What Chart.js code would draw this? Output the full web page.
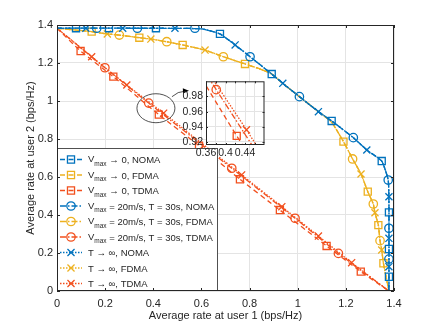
<!DOCTYPE html>
<html>
<head>
<meta charset="utf-8">
<script src="https://cdn.jsdelivr.net/npm/chart.js@4.4.1/dist/chart.umd.min.js"></script>
<style>
html, body { margin: 0; padding: 0; background: #fff; }
#wrap { position: relative; width: 436px; height: 327px; }
#main { position: absolute; left: 0; top: 0; }
#inset { position: absolute; left: 165px; top: 72px; }
</style>
</head>
<body>
<div id="wrap">
  <canvas id="main" width="436" height="327"></canvas>
  <canvas id="inset" width="110" height="90"></canvas>
</div>
<script>
// ---------- data ----------
var xTicks = [0, 0.2, 0.4, 0.6, 0.8, 1, 1.2, 1.4];
var yTicks = [0, 0.2, 0.4, 0.6, 0.8, 1, 1.2, 1.4];
var insetXGrid = [0.36, 0.38, 0.4, 0.42, 0.44, 0.46];
var insetXLabels = [0.36, 0.4, 0.44];
var insetYTicks = [0.92, 0.94, 0.96, 0.98];

// common end points of every curve
var startPt = [0, 1.383];
var endPt = [1.379, 0];

// NOMA curve (the three NOMA cases lie on top of each other)
var nomaX = [0, 0.3, 0.6, 0.677, 0.74, 0.802, 0.892, 0.938, 1.007, 1.086, 1.141, 1.231, 1.287, 1.349, 1.376, 1.379, 1.379];
var nomaY = [1.383, 1.383, 1.38, 1.353, 1.295, 1.233, 1.142, 1.093, 1.023, 0.944, 0.895, 0.807, 0.742, 0.684, 0.584, 0.45, 0];
// FDMA curve
var fdmaX = [0, 0.144, 0.209, 0.259, 0.342, 0.39, 0.456, 0.522, 0.615, 0.691, 0.781, 0.84, 0.892, 0.938, 1.007, 1.086, 1.141, 1.19, 1.228, 1.263, 1.291, 1.314, 1.321, 1.335, 1.342, 1.349, 1.356, 1.379];
var fdmaY = [1.383, 1.365, 1.353, 1.347, 1.333, 1.326, 1.312, 1.295, 1.268, 1.233, 1.195, 1.17, 1.142, 1.093, 1.023, 0.944, 0.888, 0.786, 0.695, 0.616, 0.523, 0.458, 0.412, 0.347, 0.265, 0.216, 0.146, 0];

// markers: V -> 0 (squares)
var nomaV0X = [0.079, 0.216, 0.411, 0.677, 0.892, 1.141, 1.349, 1.379, 1.379, 1.379];
var nomaV0Y = [1.383, 1.383, 1.383, 1.353, 1.142, 0.895, 0.684, 0.414, 0.221, 0.075];
var fdmaV0X = [0.144, 0.342, 0.522, 0.781, 1.19, 1.291, 1.335, 1.356];
var fdmaV0Y = [1.365, 1.333, 1.295, 1.195, 0.786, 0.523, 0.347, 0.146];
var tdmaV0X = [0.098, 0.234, 0.423, 0.59, 0.76, 0.926, 1.12, 1.262];
var tdmaV0Y = [1.263, 1.128, 0.928, 0.765, 0.588, 0.426, 0.237, 0.102];

// markers: V = 20 m/s, T = 30 s (circles)
var nomaV20X = [0.165, 0.334, 0.573, 0.802, 1.007, 1.231, 1.376, 1.379, 1.379];
var nomaV20Y = [1.383, 1.383, 1.383, 1.233, 1.023, 0.807, 0.584, 0.33, 0.168];
var fdmaV20X = [0.259, 0.456, 0.691, 1.228, 1.314, 1.342];
var fdmaV20Y = [1.347, 1.312, 1.233, 0.695, 0.458, 0.265];
var tdmaV20X = [0.199, 0.381, 0.726, 0.989, 1.169];
var tdmaV20Y = [1.175, 0.989, 0.646, 0.383, 0.198];

// markers: T -> inf (crosses)
var nomaTinfX = [0.12, 0.273, 0.49, 0.74, 0.938, 1.086, 1.287, 1.379, 1.379, 1.379];
var nomaTinfY = [1.383, 1.383, 1.383, 1.295, 1.093, 0.944, 0.742, 0.496, 0.277, 0.128];
var fdmaTinfX = [0.209, 0.39, 0.615, 1.263, 1.321, 1.349];
var fdmaTinfY = [1.353, 1.326, 1.268, 0.616, 0.412, 0.216];
var tdmaTinfX = [0.144, 0.29, 0.443, 0.767, 0.934, 1.086, 1.224];
var tdmaTinfY = [1.233, 1.084, 0.936, 0.611, 0.444, 0.289, 0.149];

var legendText = [
  'V_max → 0, NOMA',
  'V_max → 0, FDMA',
  'V_max → 0, TDMA',
  'V_max = 20m/s, T = 30s, NOMA',
  'V_max = 20m/s, T = 30s, FDMA',
  'V_max = 20m/s, T = 30s, TDMA',
  'T → ∞, NOMA',
  'T → ∞, FDMA',
  'T → ∞, TDMA'
];

// ---------- styles ----------
var BLUE = '#0072BD', YELLOW = '#EDB120', RED = '#F2501E';
var AXIS = '#262626';
var FONT = "'Liberation Sans', Arial, Helvetica, sans-serif";
var dashV0 = [5, 3.5], dashV20 = [6, 2, 1.5, 2], dashTinf = [1.5, 1.5];

function redLine(xs, ys) {
  return { x: [startPt[0]].concat(xs, [endPt[0]]), y: [startPt[1]].concat(ys, [endPt[1]]) };
}
var tdmaV0Line = redLine(tdmaV0X, tdmaV0Y);
var tdmaV20Line = redLine(tdmaV20X, tdmaV20Y);
var tdmaTinfLine = redLine(tdmaTinfX, tdmaTinfY);

var series = [
  { color: BLUE,   dash: dashV0,   marker: 'rect',     r: 5,   lx: nomaX, ly: nomaY, mx: nomaV0X, my: nomaV0Y, order: 0 },
  { color: YELLOW, dash: dashV0,   marker: 'rect',     r: 5,   lx: fdmaX, ly: fdmaY, mx: fdmaV0X, my: fdmaV0Y, order: 1 },
  { color: RED,    dash: dashV0,   marker: 'rect',     r: 5,   lx: tdmaV0Line.x, ly: tdmaV0Line.y, mx: tdmaV0X, my: tdmaV0Y, order: 2 },
  { color: BLUE,   dash: dashV20,  marker: 'circle',   r: 4.2, lx: nomaX, ly: nomaY, mx: nomaV20X, my: nomaV20Y, order: 0 },
  { color: YELLOW, dash: dashV20,  marker: 'circle',   r: 4.2, lx: fdmaX, ly: fdmaY, mx: fdmaV20X, my: fdmaV20Y, order: 1 },
  { color: RED,    dash: dashV20,  marker: 'circle',   r: 4.2, lx: tdmaV20Line.x, ly: tdmaV20Line.y, mx: tdmaV20X, my: tdmaV20Y, order: 2 },
  { color: BLUE,   dash: dashTinf, marker: 'crossRot', r: 5,   lx: nomaX, ly: nomaY, mx: nomaTinfX, my: nomaTinfY, order: 0 },
  { color: YELLOW, dash: dashTinf, marker: 'crossRot', r: 5,   lx: fdmaX, ly: fdmaY, mx: fdmaTinfX, my: fdmaTinfY, order: 1 },
  { color: RED,    dash: dashTinf, marker: 'crossRot', r: 5,   lx: tdmaTinfLine.x, ly: tdmaTinfLine.y, mx: tdmaTinfX, my: tdmaTinfY, order: 2 }
];

function pts(xs, ys) {
  return xs.map(function (x, i) { return { x: x, y: ys[i] }; });
}

function makeDatasets(list) {
  var out = [];
  list.forEach(function (s) {
    out.push({
      data: pts(s.lx, s.ly), showLine: true, pointRadius: 0,
      borderColor: s.color, borderWidth: 1.3, borderDash: s.dash, tension: 0.15, order: s.order
    });
    out.push({
      data: pts(s.mx, s.my), showLine: false, pointStyle: s.marker, pointRadius: s.r,
      pointBorderColor: s.color, pointBackgroundColor: 'rgba(0,0,0,0)', pointBorderWidth: 1.3, order: s.order
    });
  });
  return out;
}

function fmt(v) { return String(+v.toFixed(2)); }

Chart.defaults.font.family = FONT;
Chart.defaults.color = AXIS;

// axes box + inward ticks (matlab look)
function boxPlugin(tl) {
  return {
    id: 'box',
    afterDraw: function (chart) {
      var ctx = chart.ctx, a = chart.chartArea, sx = chart.scales.x, sy = chart.scales.y;
      ctx.save();
      ctx.strokeStyle = AXIS;
      ctx.lineWidth = 1;
      ctx.strokeRect(a.left + 0.5, a.top + 0.5, a.right - a.left - 1, a.bottom - a.top - 1);
      ctx.beginPath();
      sx.ticks.forEach(function (t) {
        var p = Math.round(sx.getPixelForValue(t.value)) + 0.5;
        ctx.moveTo(p, a.bottom); ctx.lineTo(p, a.bottom - tl);
        ctx.moveTo(p, a.top); ctx.lineTo(p, a.top + tl);
      });
      sy.ticks.forEach(function (t) {
        var p = Math.round(sy.getPixelForValue(t.value)) + 0.5;
        ctx.moveTo(a.left, p); ctx.lineTo(a.left + tl, p);
        ctx.moveTo(a.right, p); ctx.lineTo(a.right - tl, p);
      });
      ctx.stroke();
      ctx.restore();
    }
  };
}

function drawMarker(ctx, s, x, y) {
  ctx.strokeStyle = s.color;
  ctx.fillStyle = 'rgba(0,0,0,0)';
  ctx.lineWidth = 1.3;
  Chart.helpers.drawPoint(ctx, { pointStyle: s.marker, radius: s.r, rotation: 0, borderWidth: 1.3 }, x, y);
}

var overlayPlugin = {
  id: 'overlay',
  afterDatasetsDraw: function (chart) {
    var ctx = chart.ctx, a = chart.chartArea, sx = chart.scales.x, sy = chart.scales.y;
    ctx.save();

    // zoom ellipse + arrow
    var cx = sx.getPixelForValue(0.411), cy = sy.getPixelForValue(0.962);
    ctx.strokeStyle = AXIS;
    ctx.lineWidth = 0.8;
    ctx.beginPath();
    ctx.ellipse(cx, cy, 19, 14.5, 0, 0, Math.PI * 2);
    ctx.stroke();
    var x0 = cx + 16, y0 = cy - 11.5, x1 = cx + 32, y1 = cy - 17.5, qx = cx + 22, qy = cy - 17;
    ctx.beginPath();
    ctx.moveTo(x0, y0);
    ctx.quadraticCurveTo(qx, qy, x1 - 3, y1 + 0.5);
    ctx.stroke();
    var ang = Math.atan2(y1 - qy, x1 - qx);
    ctx.fillStyle = '#000';
    ctx.beginPath();
    ctx.moveTo(x1 + 1, y1);
    ctx.lineTo(x1 - 5 * Math.cos(ang) + 2.6 * Math.sin(ang), y1 - 5 * Math.sin(ang) - 2.6 * Math.cos(ang));
    ctx.lineTo(x1 - 5 * Math.cos(ang) - 2.6 * Math.sin(ang), y1 - 5 * Math.sin(ang) + 2.6 * Math.cos(ang));
    ctx.closePath();
    ctx.fill();

    // legend box
    var L = a.left, T = a.bottom - 143, R = a.left + 161, B = a.bottom;
    ctx.fillStyle = '#fff';
    ctx.fillRect(L, T, R - L, B - T);
    ctx.strokeStyle = AXIS;
    ctx.lineWidth = 0.8;
    ctx.strokeRect(L + 0.5, T + 0.5, R - L - 1, B - T - 1);
    series.forEach(function (s, i) {
      var y = T + 11.5 + i * 15.5;
      ctx.strokeStyle = s.color;
      ctx.lineWidth = 1.3;
      ctx.setLineDash(s.dash);
      ctx.beginPath();
      ctx.moveTo(L + 3, y); ctx.lineTo(L + 25, y);
      ctx.stroke();
      ctx.setLineDash([]);
      drawMarker(ctx, s, L + 14, y);

      var txt = legendText[i], tx = L + 31;
      ctx.fillStyle = AXIS;
      ctx.textBaseline = 'alphabetic';
      ctx.textAlign = 'left';
      if (txt.indexOf('V_max') === 0) {
        ctx.font = '9.5px ' + FONT;
        ctx.fillText('V', tx, y + 2.5);
        tx += ctx.measureText('V').width;
        ctx.font = '6.5px ' + FONT;
        ctx.fillText('max', tx, y + 6);
        tx += ctx.measureText('max').width;
        txt = txt.slice(5);
      }
      ctx.font = '9.5px ' + FONT;
      ctx.fillText(txt, tx, y + 3.5);
    });
    ctx.restore();
  }
};

new Chart(document.getElementById('main').getContext('2d'), {
  type: 'scatter',
  data: { datasets: makeDatasets(series) },
  options: {
    responsive: false,
    animation: false,
    devicePixelRatio: 1,
    layout: { padding: { left: 20, top: 25, right: 42, bottom: 0 } },
    plugins: { legend: { display: false }, tooltip: { enabled: false } },
    scales: {
      x: {
        type: 'linear', min: 0, max: 1.4,
        afterBuildTicks: function (s) { s.ticks = xTicks.map(function (v) { return { value: v }; }); },
        afterFit: function (s) { s.height = 36; },
        grid: { color: '#e4e4e4', drawTicks: false },
        border: { display: false },
        ticks: { padding: 6, font: { size: 11 }, color: AXIS, callback: function (v) { return fmt(v); } },
        title: { display: true, text: 'Average rate at user 1 (bps/Hz)', font: { size: 11 }, color: AXIS, padding: { top: 0, bottom: 4 } }
      },
      y: {
        type: 'linear', min: 0, max: 1.4,
        afterBuildTicks: function (s) { s.ticks = yTicks.map(function (v) { return { value: v }; }); },
        afterFit: function (s) { s.width = 37; },
        grid: { color: '#e4e4e4', drawTicks: false },
        border: { display: false },
        ticks: { padding: 4, font: { size: 11 }, color: AXIS, callback: function (v) { return fmt(v); } },
        title: { display: true, text: 'Average rate at user 2 (bps/Hz)', font: { size: 11 }, color: AXIS, padding: { top: 4, bottom: 0 } }
      }
    }
  },
  plugins: [overlayPlugin, boxPlugin(3)]
});

// ---------- inset (zoom on the TDMA curves) ----------
var whiteArea = {
  id: 'whiteArea',
  beforeDraw: function (chart) {
    var a = chart.chartArea;
    chart.ctx.save();
    chart.ctx.fillStyle = '#fff';
    chart.ctx.fillRect(a.left, a.top, a.right - a.left, a.bottom - a.top);
    chart.ctx.restore();
  }
};

new Chart(document.getElementById('inset').getContext('2d'), {
  type: 'scatter',
  data: { datasets: makeDatasets([series[2], series[5], series[8]]) },
  options: {
    responsive: false,
    animation: false,
    devicePixelRatio: 1,
    layout: { padding: { left: 0, top: 8, right: 10.5, bottom: 0 } },
    plugins: { legend: { display: false }, tooltip: { enabled: false } },
    scales: {
      x: {
        type: 'linear', min: 0.36, max: 0.48,
        afterBuildTicks: function (s) { s.ticks = insetXGrid.map(function (v) { return { value: v }; }); },
        afterFit: function (s) { s.height = 17; },
        grid: { color: '#e4e4e4', drawTicks: false },
        border: { display: false },
        ticks: {
          padding: 2, font: { size: 10.5 }, color: AXIS, maxRotation: 0, autoSkip: false,
          callback: function (v) { return insetXLabels.indexOf(+v.toFixed(2)) >= 0 ? fmt(v) : ''; }
        }
      },
      y: {
        type: 'linear', min: 0.916, max: 1.0,
        afterBuildTicks: function (s) { s.ticks = insetYTicks.map(function (v) { return { value: v }; }); },
        afterFit: function (s) { s.width = 41; },
        grid: { color: '#e4e4e4', drawTicks: false },
        border: { display: false },
        ticks: { padding: 3, font: { size: 10.5 }, color: AXIS, callback: function (v) { return fmt(v); } }
      }
    }
  },
  plugins: [whiteArea, boxPlugin(2)]
});
</script>
</body>
</html>
